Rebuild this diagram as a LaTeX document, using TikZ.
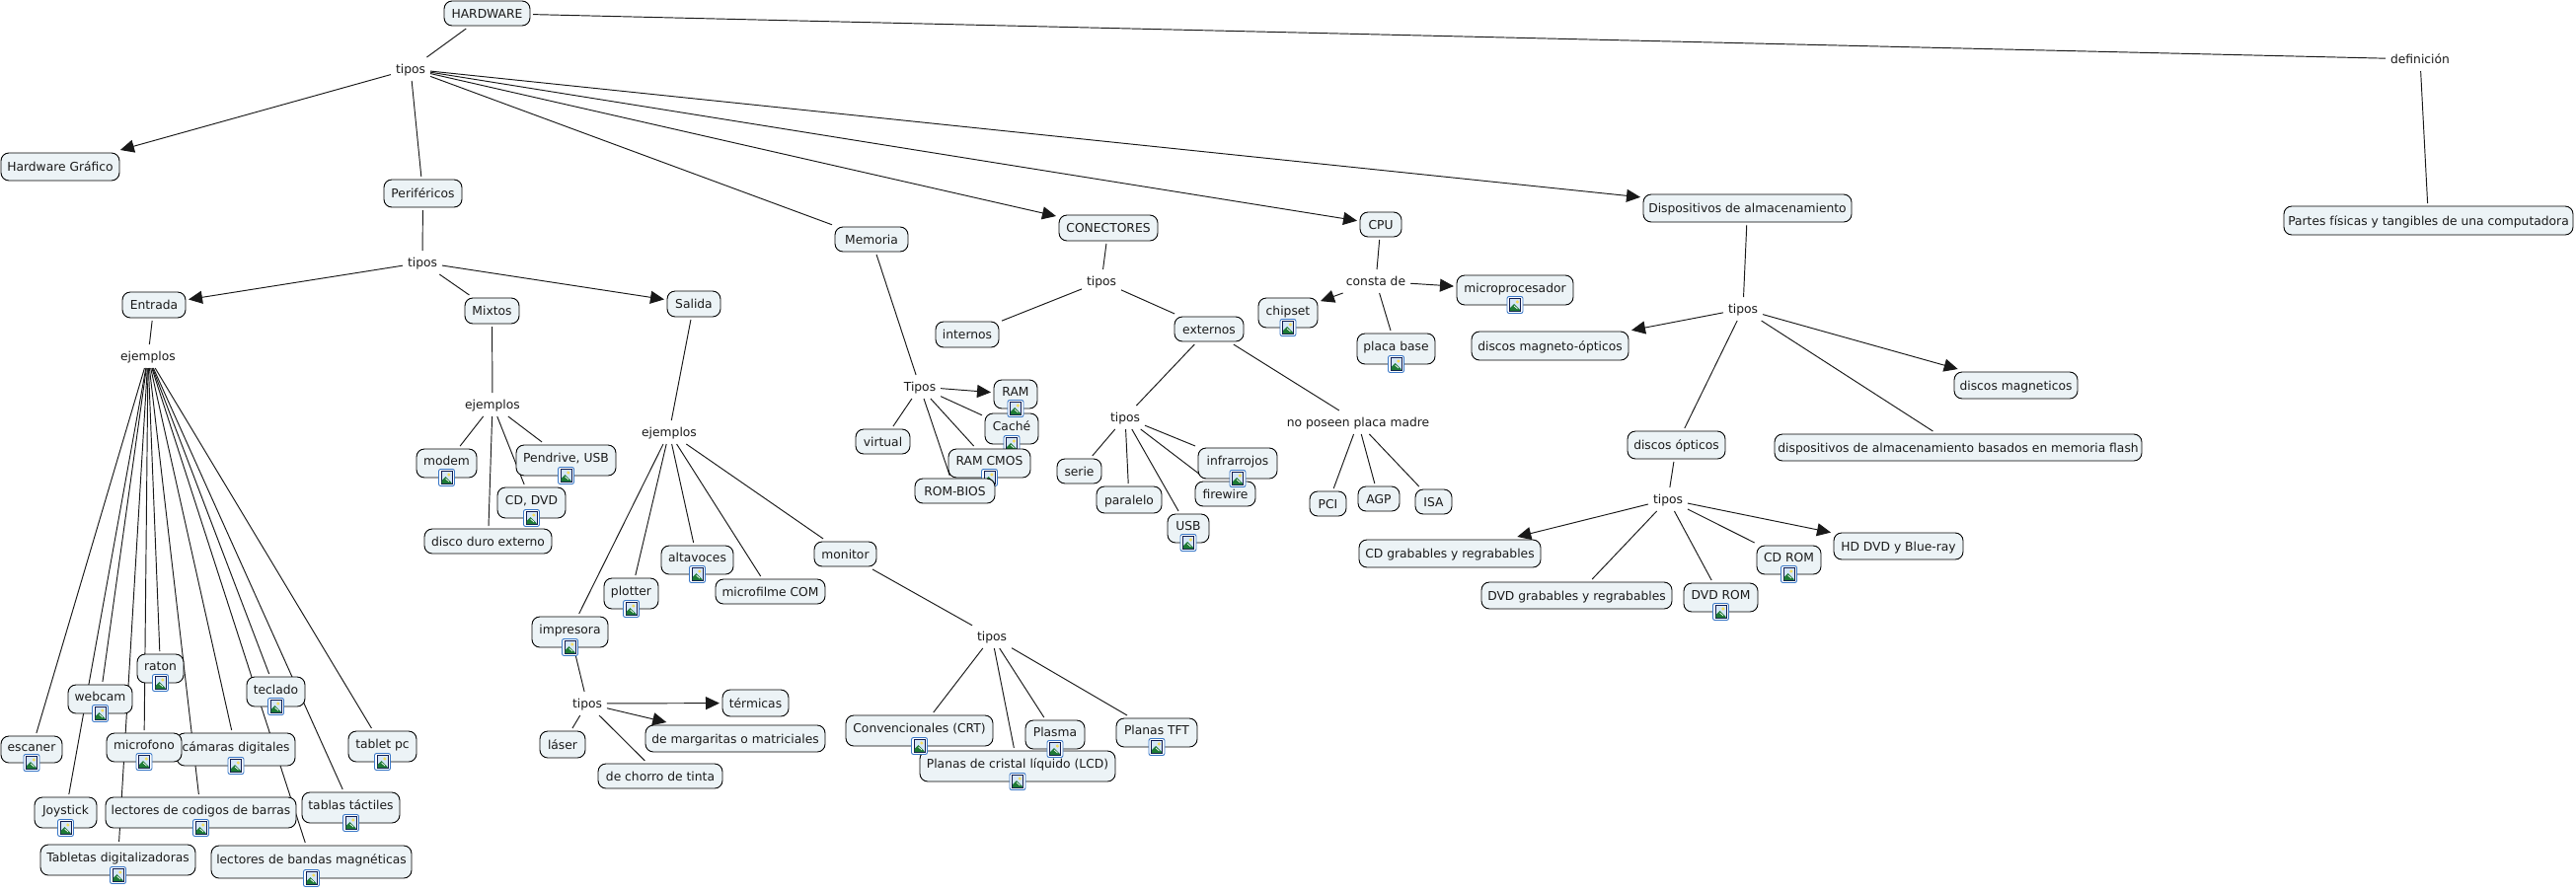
\documentclass[tikz,border=0pt]{standalone}
\usepackage{fontspec}
\setmainfont{DejaVu Sans}
\usetikzlibrary{arrows.meta}
\pgfdeclarelayer{background}
\pgfsetlayers{background,main}
\definecolor{boxfill}{HTML}{ECF3F6}
\definecolor{txt}{HTML}{1A1A1A}
\definecolor{iconblue}{HTML}{3A78C8}
\definecolor{iconnavy}{HTML}{101C50}
\definecolor{iconsky}{HTML}{D5E6F7}
\definecolor{icongreen}{HTML}{1E7A35}
\definecolor{iconsun}{HTML}{F5DC5A}
\tikzset{
  concept/.style={draw=black,fill=boxfill,line width=0.9pt,rounded corners=8pt,inner sep=0pt,outer sep=3pt,text=txt,font=\fontsize{12.3}{15}\selectfont,anchor=center},
  plaintext/.style={text height=12pt,text depth=3pt},
  icontext/.style={text height=9pt,text depth=5pt},
  lbl/.style={inner xsep=5pt,inner ysep=0pt,outer sep=0pt,text=txt,font=\fontsize{12.3}{15}\selectfont,anchor=center,minimum height=24pt,text height=11pt,text depth=3pt},
  link/.style={draw=black!90,line width=0.95pt},
  arr/.style={link,-{Triangle[length=14pt,width=13pt]}},
  imgicon/.pic={
    \draw[iconblue,fill=white,line width=0.9pt,rounded corners=2pt] (-8,-8.5) rectangle (8,8.5);
    \draw[iconnavy,fill=iconsky,line width=1pt] (-5.5,-6.5) rectangle (5.5,6.5);
    \fill[icongreen] (-5,6) -- (-5,3) -- (-1,-1) -- (5,5) -- (5,6) -- cycle;
    \draw[white,line width=0.7pt] (-1,1) -- (2.5,4);
    \fill[iconsun] (2.3,-3) circle (1.7);
  }
}
% name x1 y1 x2 y2 text
\newcommand\cn[6]{\node[concept,plaintext,minimum width={(#4-#2)*1pt},minimum height={(#5-#3)*1pt}] (#1) at ({(#2+#4)/2},{(#3+#5)/2}) {#6};}
\newcommand\ci[6]{\node[concept,icontext,minimum width={(#4-#2)*1pt},minimum height={(#5-#3)*1pt}] (#1) at ({(#2+#4)/2},{(#3+#5)/2}) {#6};
  \path (#1.south) ++(0,3pt) pic {imgicon};}
% name x y text
\newcommand\lb[4]{\node[lbl] (#1) at (#2,#3) {#4};}
\begin{document}
\begin{tikzpicture}[x=1pt,y=-1pt]
\useasboundingbox (0,0) rectangle (2610,903);
\begin{pgfonlayer}{background}
\fill[white] (0,0) rectangle (2610,903);
\end{pgfonlayer}
% top
\cn{hw}{450}{1}{537}{26}{HARDWARE}
\lb{t0}{416}{70}{tipos}
\lb{def}{2452}{60}{definición}
\cn{partes}{2314}{209}{2607}{238}{Partes físicas y tangibles de una computadora}
\cn{hg}{1}{155}{121}{183}{Hardware Gráfico}
\cn{perif}{389}{182}{468}{210}{Periféricos}
\cn{mem}{846}{230}{920}{255}{Memoria}
\cn{conec}{1073}{218}{1173}{244}{CONECTORES}
\cn{cpu}{1378}{215}{1420}{240}{CPU}
\cn{disp}{1665}{197}{1876}{225}{Dispositivos de almacenamiento}
% perifericos
\lb{t1}{428}{266}{tipos}
\cn{ent}{124}{296}{188}{322}{Entrada}
\cn{mix}{471}{302}{526}{328}{Mixtos}
\cn{sal}{676}{295}{730}{321}{Salida}
\lb{ej1}{150}{361}{ejemplos}
\lb{ej2}{499}{410}{ejemplos}
\lb{ej3}{678}{438}{ejemplos}
% entrada examples
\ci{escaner}{1}{746}{63}{773}{escaner}
\ci{webcam}{69}{694}{134}{723}{webcam}
\ci{raton}{139}{663}{186}{692}{raton}
\ci{camaras}{179}{743}{299}{776}{cámaras digitales}
\ci{microfono}{108}{743}{184}{772}{microfono}
\ci{teclado}{250}{686}{309}{716}{teclado}
\ci{tablet}{353}{741}{422}{772}{tablet pc}
\ci{joy}{35}{808}{98}{839}{Joystick}
\ci{codigos}{107}{808}{300}{839}{lectores de codigos de barras}
\ci{tactiles}{306}{803}{405}{834}{tablas táctiles}
\ci{tabletas}{41}{856}{198}{887}{Tabletas digitalizadoras}
\ci{bandas}{214}{857}{417}{890}{lectores de bandas magnéticas}
% mixtos
\ci{modem}{422}{455}{483}{484}{modem}
\ci{pendrive}{523}{451}{624}{482}{Pendrive, USB}
\ci{cddvd}{504}{494}{573}{525}{CD, DVD}
\cn{disco}{430}{536}{559}{561}{disco duro externo}
% salida
\ci{altavoces}{670}{553}{743}{582}{altavoces}
\ci{plotter}{612}{586}{667}{617}{plotter}
\cn{microfilme}{725}{587}{836}{612}{microfilme COM}
\cn{monitor}{825}{549}{888}{574}{monitor}
\ci{impresora}{539}{625}{616}{656}{impresora}
\lb{t2}{595}{713}{tipos}
\cn{termicas}{732}{699}{799}{726}{térmicas}
\cn{margaritas}{654}{735}{836}{762}{de margaritas o matriciales}
\cn{laser}{547}{741}{593}{768}{láser}
\cn{chorro}{606}{774}{732}{799}{de chorro de tinta}
\lb{t3}{1005}{645}{tipos}
\ci{lcd}{932}{761}{1130}{792}{Planas de cristal líquido (LCD)}
\ci{crt}{857}{725}{1006}{756}{Convencionales (CRT)}
\ci{plasma}{1039}{730}{1099}{759}{Plasma}
\ci{tft}{1131}{728}{1213}{757}{Planas TFT}
% memoria
\lb{t4}{932}{392}{Tipos}
\ci{cache}{998}{419}{1052}{450}{Caché}
\ci{ram}{1007}{385}{1051}{414}{RAM}
\ci{cmos}{961}{455}{1044}{484}{RAM CMOS}
\cn{bios}{927}{485}{1008}{510}{ROM-BIOS}
\cn{virtual}{867}{435}{922}{460}{virtual}
% conectores
\lb{t5}{1116}{285}{tipos}
\cn{internos}{948}{326}{1012}{352}{internos}
\cn{ext}{1190}{321}{1260}{346}{externos}
\lb{t6}{1140}{423}{tipos}
\lb{nop}{1376}{428}{no poseen placa madre}
\cn{serie}{1071}{465}{1116}{490}{serie}
\cn{paralelo}{1111}{493}{1177}{520}{paralelo}
\ci{usb}{1183}{521}{1225}{550}{USB}
\cn{firewire}{1211}{488}{1272}{513}{firewire}
\ci{infra}{1214}{454}{1294}{485}{infrarrojos}
\cn{pci}{1327}{498}{1364}{523}{PCI}
\cn{agp}{1376}{493}{1418}{518}{AGP}
\cn{isa}{1434}{496}{1471}{521}{ISA}
% cpu
\lb{cde}{1394}{285}{consta de}
\ci{chipset}{1275}{302}{1335}{332}{chipset}
\ci{placa}{1375}{338}{1454}{369}{placa base}
\ci{micro}{1476}{279}{1594}{309}{microprocesador}
% dispositivos
\lb{t7}{1766}{313}{tipos}
\cn{magop}{1491}{336}{1650}{365}{discos magneto-ópticos}
\cn{opt}{1649}{437}{1748}{465}{discos ópticos}
\cn{mag}{1980}{377}{2105}{404}{discos magneticos}
\cn{flash}{1798}{440}{2170}{467}{dispositivos de almacenamiento basados en memoria flash}
\lb{t8}{1690}{506}{tipos}
\cn{cdgr}{1377}{547}{1561}{575}{CD grabables y regrabables}
\cn{dvdgr}{1501}{590}{1694}{617}{DVD grabables y regrabables}
\ci{dvdrom}{1706}{591}{1781}{620}{DVD ROM}
\ci{cdrom}{1780}{553}{1845}{582}{CD ROM}
\cn{hd}{1858}{540}{1989}{567}{HD DVD y Blue-ray}
% connectors
\begin{pgfonlayer}{background}
\draw[link] (hw) -- (t0);
\draw[link] (hw) -- (def);
\draw[link] (def) -- (partes);
\draw[arr] (t0) -- (hg);
\draw[link] (t0) -- (perif);
\draw[link] (t0) -- (mem);
\draw[arr] (t0) -- (conec);
\draw[arr] (t0) -- (cpu);
\draw[arr] (t0) -- (disp);
\draw[link] (perif) -- (t1);
\draw[arr] (t1) -- (ent);
\draw[link] (t1) -- (mix);
\draw[arr] (t1) -- (sal);
\draw[link] (ent) -- (ej1);
\draw[link] (mix) -- (ej2);
\draw[link] (sal) -- (ej3);
\foreach \n in {escaner,joy,webcam,tabletas,microfono,raton,codigos,camaras,bandas,teclado,tactiles,tablet}
  \draw[link] (ej1) -- (\n);
\foreach \n in {modem,disco,cddvd,pendrive}
  \draw[link] (ej2) -- (\n);
\foreach \n in {impresora,plotter,altavoces,microfilme,monitor}
  \draw[link] (ej3) -- (\n);
\draw[link] (impresora) -- (t2);
\draw[arr] (t2) -- (termicas);
\draw[arr] (t2) -- (margaritas);
\draw[link] (t2) -- (laser);
\draw[link] (t2) -- (chorro);
\draw[link] (monitor) -- (t3);
\foreach \n in {crt,lcd,plasma,tft}
  \draw[link] (t3) -- (\n);
\draw[link] (mem) -- (t4);
\draw[arr] (t4) -- (ram);
\foreach \n in {cache,cmos,bios,virtual}
  \draw[link] (t4) -- (\n);
\draw[link] (conec) -- (t5);
\draw[link] (t5) -- (internos);
\draw[link] (t5) -- (ext);
\draw[link] (ext) -- (t6);
\draw[link] (ext) -- (nop);
\foreach \n in {serie,paralelo,usb,firewire,infra}
  \draw[link] (t6) -- (\n);
\foreach \n in {pci,agp,isa}
  \draw[link] (nop) -- (\n);
\draw[link] (cpu) -- (cde);
\draw[arr] (cde) -- (chipset);
\draw[link] (cde) -- (placa);
\draw[arr] (cde) -- (micro);
\draw[link] (disp) -- (t7);
\draw[arr] (t7) -- (magop);
\draw[link] (t7) -- (opt);
\draw[link] (t7) -- (flash);
\draw[arr] (t7) -- (mag);
\draw[link] (opt) -- (t8);
\draw[arr] (t8) -- (cdgr);
\draw[link] (t8) -- (dvdgr);
\draw[link] (t8) -- (dvdrom);
\draw[link] (t8) -- (cdrom);
\draw[arr] (t8) -- (hd);
\end{pgfonlayer}
\end{tikzpicture}
\end{document}
